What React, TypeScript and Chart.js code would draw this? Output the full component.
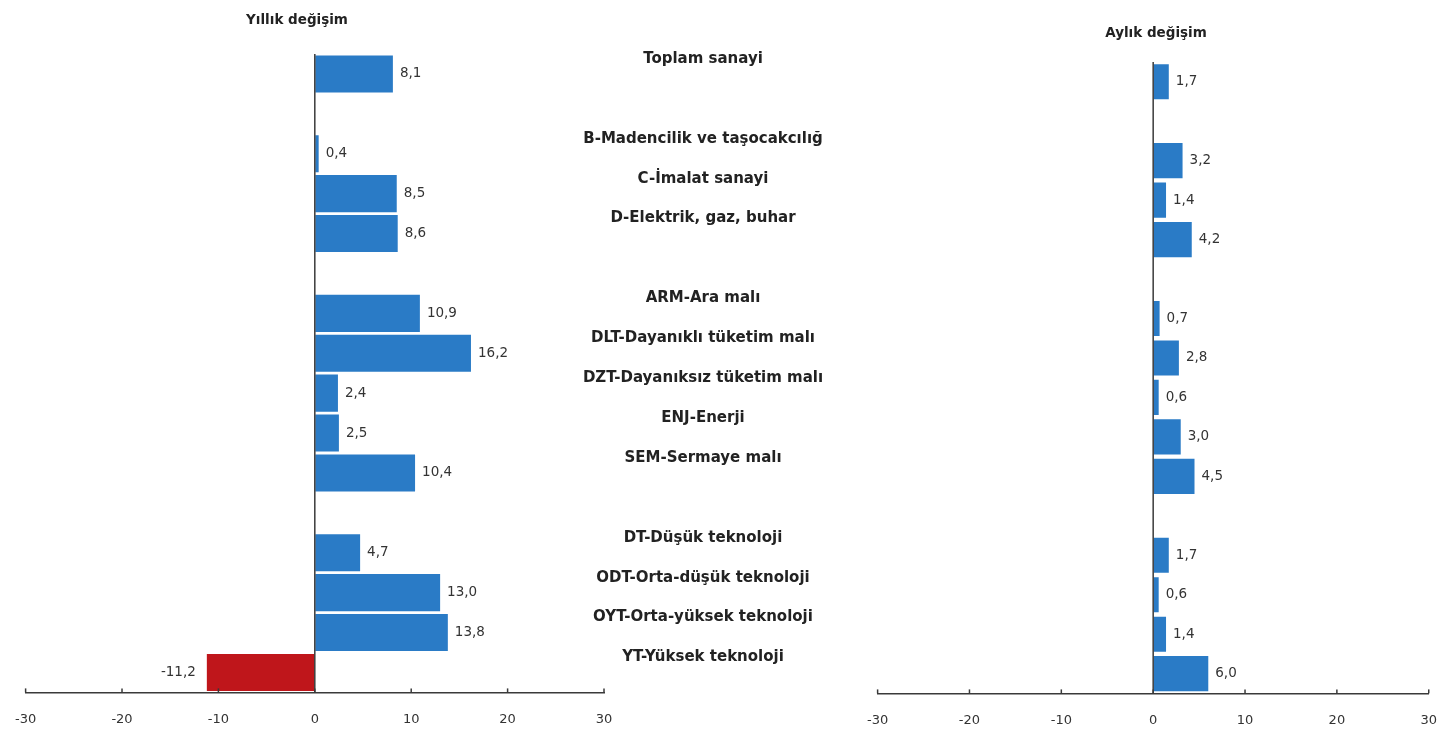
import React, { useEffect, useRef } from "react";
import { Chart, registerables } from "chart.js";

Chart.register(...registerables);

const categories = [
  "Toplam sanayi",
  "",
  "B-Madencilik ve taşocakcılığ",
  "C-İmalat sanayi",
  "D-Elektrik, gaz, buhar",
  "",
  "ARM-Ara malı",
  "DLT-Dayanıklı tüketim malı",
  "DZT-Dayanıksız tüketim malı",
  "ENJ-Enerji",
  "SEM-Sermaye malı",
  "",
  "DT-Düşük teknoloji",
  "ODT-Orta-düşük teknoloji",
  "OYT-Orta-yüksek teknoloji",
  "YT-Yüksek teknoloji",
];
const yearlyValues: (number | null)[] = [8.1, null, 0.4, 8.5, 8.6, null, 10.9, 16.2, 2.4, 2.5, 10.4, null, 4.7, 13.0, 13.8, -11.2];
const monthlyValues: (number | null)[] = [1.7, null, 3.2, 1.4, 4.2, null, 0.7, 2.8, 0.6, 3.0, 4.5, null, 1.7, 0.6, 1.4, 6.0];
const xTickValues = [-30, -20, -10, 0, 10, 20, 30];
const yearlyTitle = "Yıllık değişim";
const monthlyTitle = "Aylık değişim";

const BLUE = "#2a7bc6";
const RED = "#bf161b";
const FONT = "'DejaVu Sans', sans-serif";
const AXIS = "#3a3a3a";

function fmt(v: number) {
  return v.toFixed(1).replace(".", ",");
}

function makeDecor(showCategoryLabels: boolean) {
  return {
    id: "decor",
    afterDatasetsDraw(chart: any) {
      const { ctx, chartArea, scales } = chart;
      const xs = scales.x;
      const ys = scales.y;
      ctx.save();
      ctx.strokeStyle = AXIS;
      ctx.lineWidth = 1.5;
      const x0 = xs.getPixelForValue(0);
      ctx.beginPath();
      ctx.moveTo(x0, chartArea.top);
      ctx.lineTo(x0, chartArea.bottom);
      ctx.stroke();
      xTickValues.forEach((v) => {
        const px = xs.getPixelForValue(v);
        ctx.beginPath();
        ctx.moveTo(px, chartArea.bottom);
        ctx.lineTo(px, chartArea.bottom - 4);
        ctx.stroke();
      });
      const meta = chart.getDatasetMeta(0);
      const data = chart.data.datasets[0].data;
      ctx.font = `13.5px ${FONT}`;
      ctx.fillStyle = "#333";
      ctx.textBaseline = "middle";
      meta.data.forEach((el: any, i: number) => {
        const v = data[i];
        if (v == null) return;
        if (v >= 0) {
          ctx.textAlign = "left";
          ctx.fillText(fmt(v), el.x + 7, el.y);
        } else {
          ctx.textAlign = "right";
          ctx.fillText(fmt(v), el.x - 11, el.y);
        }
      });
      if (showCategoryLabels) {
        ctx.font = `bold 15px ${FONT}`;
        ctx.fillStyle = "#222";
        ctx.textAlign = "center";
        categories.forEach((c, i) => {
          if (!c) return;
          ctx.fillText(c, chartArea.right + 99, ys.getPixelForValue(i) - 15);
        });
      }
      ctx.restore();
    },
  };
}

function buildConfig(values: (number | null)[], padding: any, showLabels: boolean, catPct: number): any {
  return {
    type: "bar",
    data: {
      labels: categories,
      datasets: [
        {
          data: values,
          backgroundColor: values.map((v) => (v != null && v < 0 ? RED : BLUE)),
          borderWidth: 0,
          barPercentage: 1,
          categoryPercentage: catPct,
        },
      ],
    },
    options: {
      indexAxis: "y",
      responsive: false,
      animation: false,
      devicePixelRatio: 1,
      layout: { padding },
      plugins: { legend: { display: false }, tooltip: { enabled: false } },
      scales: {
        x: {
          min: -30,
          max: 30,
          afterBuildTicks: (axis: any) => {
            axis.ticks = xTickValues.map((v) => ({ value: v }));
          },
          grid: { display: true, drawOnChartArea: false, drawTicks: false },
          border: { display: true, color: AXIS, width: 1.5 },
          ticks: {
            padding: 19,
            color: "#333",
            font: { family: FONT, size: 13 },
            maxRotation: 0,
            autoSkip: false,
          },
        },
        y: { display: false },
      },
    },
    plugins: [makeDecor(showLabels)],
  };
}

export default function App() {
  const leftRef = useRef<HTMLCanvasElement>(null);
  const rightRef = useRef<HTMLCanvasElement>(null);

  useEffect(() => {
    document.body.style.margin = "0";
    const left = new Chart(
      leftRef.current as HTMLCanvasElement,
      buildConfig(yearlyValues, { left: 28, right: 256, top: 54, bottom: 4 }, true, 0.93)
    );
    const right = new Chart(
      rightRef.current as HTMLCanvasElement,
      buildConfig(monthlyValues, { left: 28, right: 26, top: 62, bottom: 3 }, false, 0.89)
    );
    return () => {
      left.destroy();
      right.destroy();
    };
  }, []);

  const titleStyle: React.CSSProperties = {
    position: "absolute",
    font: `bold 13.5px ${FONT}`,
    color: "#222",
    whiteSpace: "nowrap",
    transform: "translate(-50%, -50%)",
  };

  return (
    <div style={{ position: "absolute", left: 0, top: 0, width: 1456, height: 729, background: "#fff", overflow: "hidden" }}>
      <canvas ref={leftRef} width={864} height={750} style={{ position: "absolute", left: -4, top: 0 }} />
      <canvas ref={rightRef} width={608} height={750} style={{ position: "absolute", left: 848, top: 0 }} />
      <div style={{ ...titleStyle, left: 297, top: 19 }}>{yearlyTitle}</div>
      <div style={{ ...titleStyle, left: 1156, top: 32 }}>{monthlyTitle}</div>
    </div>
  );
}
